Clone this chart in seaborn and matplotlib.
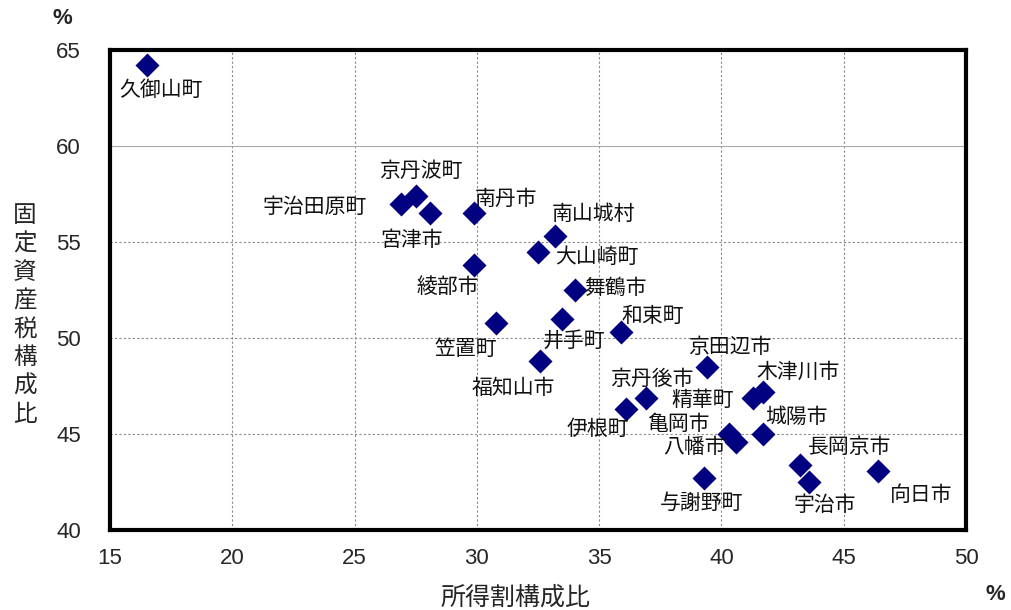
import matplotlib
matplotlib.use("Agg")
import matplotlib.pyplot as plt
import pandas as pd
import seaborn as sns

# %%
# data
names = [
    "久御山町", "宇治田原町", "京丹波町", "宮津市", "南丹市", "南山城村", "大山崎町",
    "綾部市", "舞鶴市", "井手町", "笠置町", "和束町", "福知山市", "京田辺市",
    "木津川市", "精華町", "京丹後市", "伊根町", "亀岡市", "八幡市", "城陽市",
    "長岡京市", "宇治市", "向日市", "与謝野町",
]
income_share = [
    16.5, 26.9, 27.5, 28.1, 29.9, 33.2, 32.5,
    29.9, 34.0, 33.5, 30.8, 35.9, 32.6, 39.4,
    41.7, 41.3, 36.9, 36.1, 40.3, 40.6, 41.7,
    43.2, 43.6, 46.4, 39.3,
]
property_share = [
    64.2, 57.0, 57.4, 56.5, 56.5, 55.3, 54.5,
    53.8, 52.5, 51.0, 50.8, 50.3, 48.8, 48.5,
    47.2, 46.9, 46.9, 46.3, 45.0, 44.6, 45.0,
    43.4, 42.5, 43.1, 42.7,
]
# label offsets (pixels) from each marker
label_dx = [14, -86, 5, -19, 32, 38, 59, -27, 41, 12, -31, 32, -27, 23,
            35, -51, 6, -28, -50, -42, 33, 50, 15, 43, -3]
label_dy = [-25, -3, 25, -27, 14, 22, -5, -22, 2, -22, -26, 16, -27, 20,
            20, -2, 19, -20, 10, -5, 17, 18, -23, -24, -25]

x_ticks = [15, 20, 25, 30, 35, 40, 45, 50]
y_ticks = [40, 45, 50, 55, 60, 65]

df = pd.DataFrame({"name": names, "x": income_share, "y": property_share})

# %%
sns.set_style("white")
jp = ["Noto Sans CJK JP", "DejaVu Sans"]
num = ["Liberation Sans", "DejaVu Sans"]

fig = plt.figure(figsize=(10.11, 6.10), dpi=100)
ax = fig.add_axes([0.1088, 0.1311, 0.8467, 0.7869])

sns.scatterplot(
    data=df, x="x", y="y", ax=ax,
    marker="D", s=150, color="#000080", edgecolor="#000080", linewidth=0,
    zorder=3, legend=False,
)

for n, xv, yv, dx, dy in zip(names, income_share, property_share, label_dx, label_dy):
    ax.annotate(
        n, (xv, yv), xytext=(dx, dy), textcoords="offset pixels",
        ha="center", va="center", fontsize=15, family=jp, color="#111111",
        zorder=4,
    )

ax.set_xlim(15, 50)
ax.set_ylim(40, 65)
ax.set_xticks(x_ticks)
ax.set_yticks(y_ticks)
ax.set_xticklabels([str(t) for t in x_ticks], family=num, fontsize=16)
ax.set_yticklabels([str(t) for t in y_ticks], family=num, fontsize=16)
ax.tick_params(axis="both", direction="in", length=6, width=1)
ax.tick_params(axis="y", pad=21)
ax.tick_params(axis="x", pad=13)

ax.grid(True, color="#888888", linestyle=(0, (2, 2)), linewidth=0.8)
for t, gl in zip(y_ticks, ax.get_ygridlines()):
    if t == 60:
        gl.set_linestyle("-")
        gl.set_color("#aaaaaa")
ax.set_axisbelow(True)

for sp in ax.spines.values():
    sp.set_visible(True)
    sp.set_color("black")
    sp.set_linewidth(3)

ax.set_xlabel("")
ax.set_ylabel("")

# axis titles and units
fig.text(515 / 1011, 1 - 598 / 610, "所得割構成比", ha="center", va="center",
         fontsize=18, family=jp)
fig.text(25 / 1011, 1 - 315 / 610, "\n".join("固定資産税構成比"), ha="center",
         va="center", fontsize=17, family=jp, linespacing=1.3)
fig.text(62 / 1011, 1 - 18 / 610, "%", ha="center", va="center", fontsize=16,
         family=num, fontweight="bold")
fig.text(995 / 1011, 1 - 595 / 610, "%", ha="center", va="center", fontsize=16,
         family=num, fontweight="bold")

plt.savefig("out.png", dpi=100)
